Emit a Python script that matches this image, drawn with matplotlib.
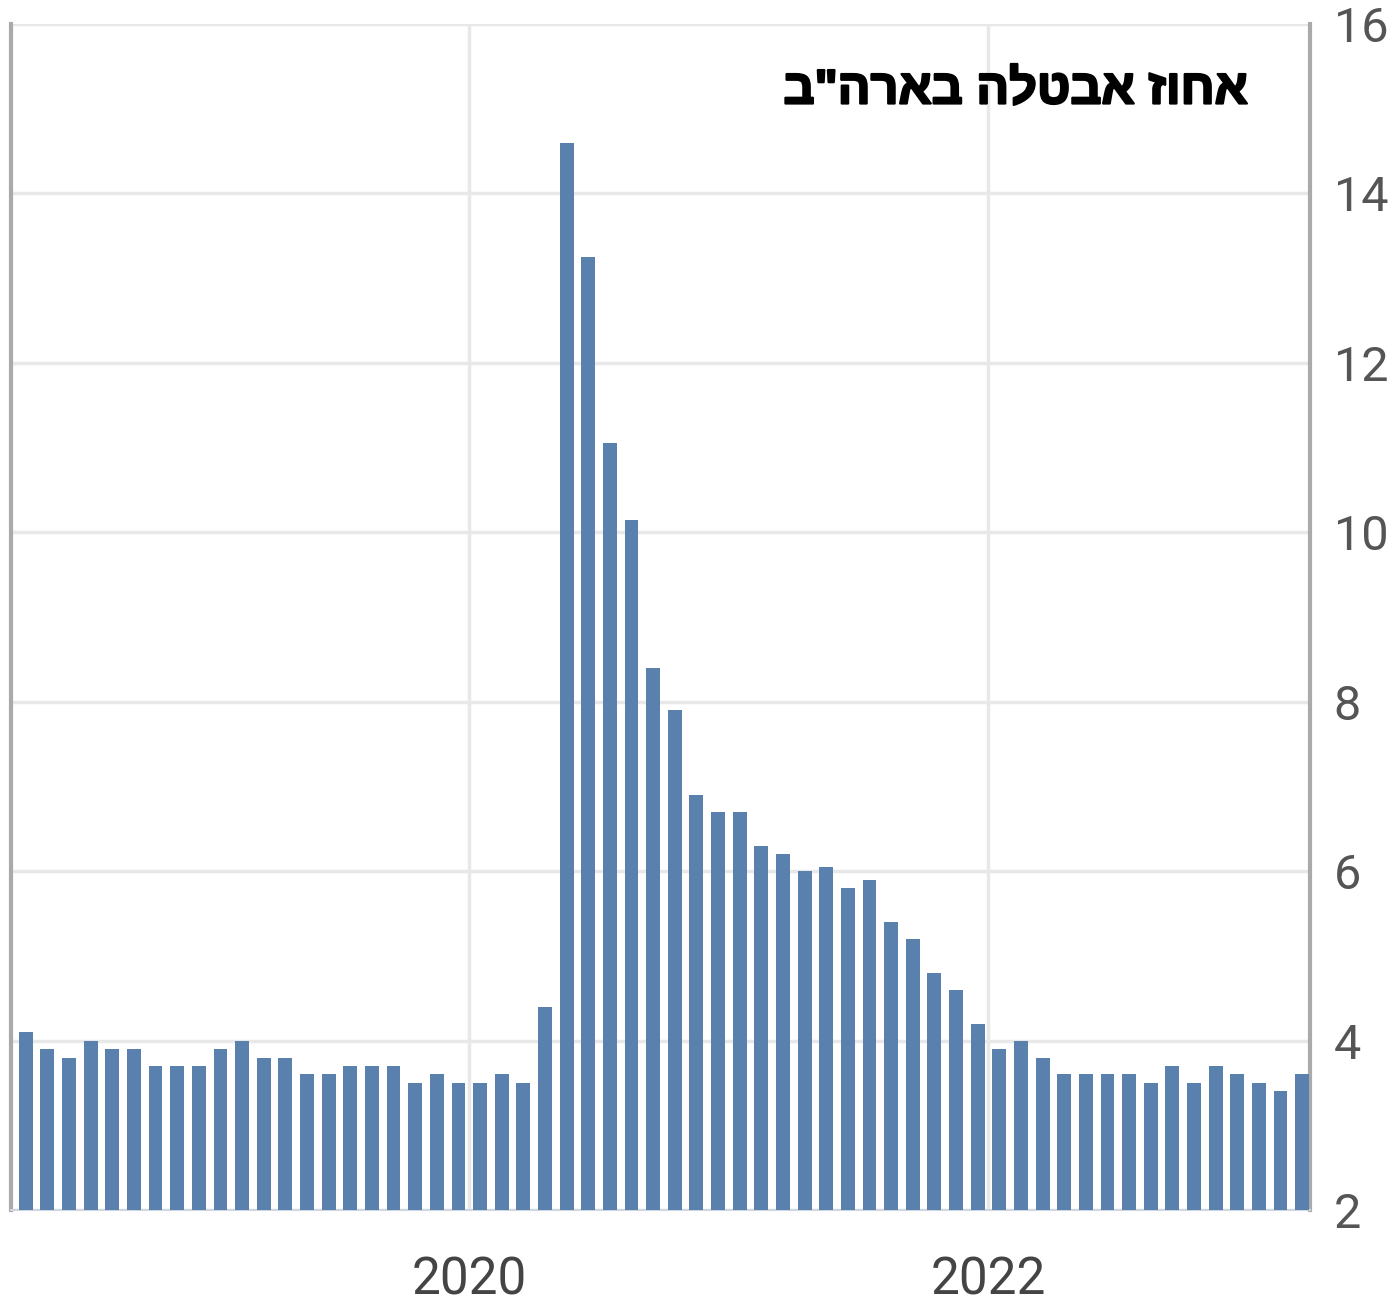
import matplotlib
matplotlib.use("Agg")
import matplotlib.pyplot as plt
import matplotlib.patheffects as pe
import pandas as pd

# Reference months of the data (US unemployment rate, %)
months = pd.period_range("2018-03", "2023-02", freq="M")
rate = [4.1, 3.9, 3.8, 4.0, 3.9, 3.9, 3.7, 3.7, 3.7, 3.9,
        4.0, 3.8, 3.8, 3.6, 3.6, 3.7, 3.7, 3.7, 3.5, 3.6,
        3.5, 3.5, 3.6, 3.5, 4.4, 14.6, 13.25, 11.05, 10.15, 8.4,
        7.9, 6.9, 6.7, 6.7, 6.3, 6.2, 6.0, 6.05, 5.8, 5.9,
        5.4, 5.2, 4.8, 4.6, 4.2, 3.9, 4.0, 3.8, 3.6, 3.6,
        3.6, 3.6, 3.5, 3.7, 3.5, 3.7, 3.6, 3.5, 3.4, 3.6]
# bars are shown at the month in which they are published
shown = months + 1
year_ticks = [2020, 2022]
yticks = [2, 4, 6, 8, 10, 12, 14, 16]
title = 'אחוז אבטלה בארה"ב'

W, H = 1399, 1307
fig = plt.figure(figsize=(W / 100, H / 100), dpi=100)
ax = fig.add_axes([11 / W, 1 - 1210 / H, (1310 - 11) / W, (1210 - 24) / H])

x = list(range(len(rate)))
ax.bar(x, [r - 2 for r in rate], bottom=2, width=0.64, color="#5a80ad", zorder=3)

ax.set_ylim(2, 16)
ax.set_xlim(-0.68, len(rate) - 1 + 0.36)

# year boundaries: just before the first bar shown in January of that year
xt = []
for yr in year_ticks:
    idx = [i for i, p in enumerate(shown) if p.year == yr and p.month == 1][0]
    xt.append(idx - 0.5)
ax.set_xticks(xt)
ax.set_xticklabels([str(y) for y in year_ticks])
ax.set_yticks(yticks)
ax.set_yticklabels([str(v) for v in yticks])

ax.yaxis.tick_right()
ax.grid(True, color="#e8e8e8", linewidth=2.5, zorder=0)
ax.tick_params(axis="y", length=0, pad=17, labelsize=35, labelcolor="#555555")
ax.tick_params(axis="x", length=0, pad=33, labelsize=37, labelcolor="#444444")
for lab in ax.get_xticklabels() + ax.get_yticklabels():
    lab.set_family(["Roboto", "DejaVu Sans"])

ax.spines["top"].set_visible(False)
ax.spines["left"].set_color("#aaaaaa")
ax.spines["left"].set_linewidth(3)
ax.spines["right"].set_color("#aaaaaa")
ax.spines["right"].set_linewidth(3)
ax.spines["bottom"].set_color("#cfd6df")
ax.spines["bottom"].set_linewidth(1.5)

# Hebrew is drawn right-to-left: reverse logical order for display
fig.text(1248 / W, 1 - 91 / H, title[::-1], ha="right", va="center",
         fontsize=35, fontweight="bold", color="#000000",
         family=["Liberation Sans", "DejaVu Sans"],
         path_effects=[pe.withStroke(linewidth=1.6, foreground="#000000")])

fig.savefig("out.png", dpi=100, facecolor="white")
